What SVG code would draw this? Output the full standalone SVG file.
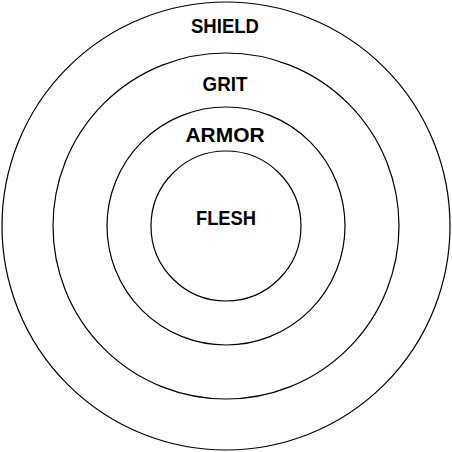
<svg xmlns="http://www.w3.org/2000/svg" width="452" height="452" viewBox="0 0 452 452">
<style>
.ring{fill:none;stroke:#000;stroke-width:1.2}
.lbl{font-family:"Liberation Sans",Arial,sans-serif;font-weight:bold;font-size:20.5px;text-anchor:middle;fill:#000}
</style>
<rect width="452" height="452" fill="#fff"/>
<g id="shield"><circle class="ring" cx="226" cy="226" r="224"/><text class="lbl" x="225" y="33" textLength="68" lengthAdjust="spacingAndGlyphs">SHIELD</text></g>
<g id="grit"><circle class="ring" cx="226" cy="226" r="173"/><text class="lbl" x="225" y="91" textLength="45" lengthAdjust="spacingAndGlyphs">GRIT</text></g>
<g id="armor"><circle class="ring" cx="226" cy="226" r="119"/><text class="lbl" x="225" y="142" textLength="79" lengthAdjust="spacingAndGlyphs">ARMOR</text></g>
<g id="flesh"><circle class="ring" cx="226" cy="226" r="75"/><text class="lbl" x="226" y="225" textLength="60" lengthAdjust="spacingAndGlyphs">FLESH</text></g>
<g id="connectors"></g>
</svg>
